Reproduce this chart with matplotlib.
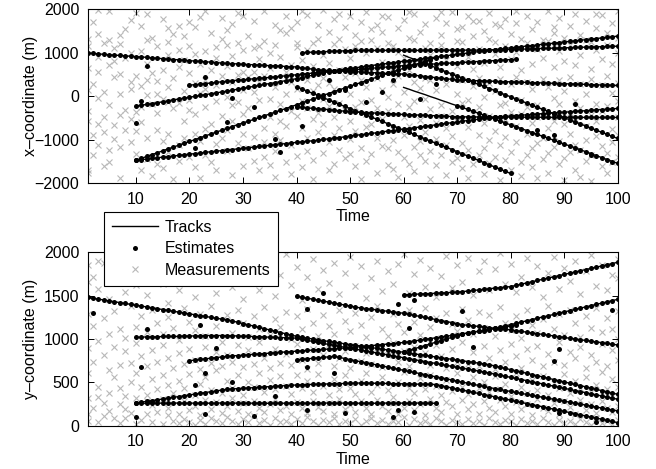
import numpy as np
import matplotlib
matplotlib.use("Agg")
import matplotlib.pyplot as plt
from matplotlib.lines import Line2D

plt.rcParams['font.family'] = ['Liberation Sans', 'DejaVu Sans']

# ---------------- data: x-coordinate panel ----------------
time_ticks = [10, 20, 30, 40, 50, 60, 70, 80, 90, 100]
x_ticks = [-2000, -1000, 0, 1000, 2000]
y_ticks = [0, 500, 1000, 1500, 2000]

xA_start, xA_est = 1, 1
xA = [990,980,970,960,950,940,935,925,915,905, 900,890,880,870,860,850,840,835,825,815,
      805,800,790,780,770,760,750,745,740,730, 725,720,715,705,700,695,690,680,675,670,
      650,635,620,600,595,590,580,575,570,565, 560,555,545,540,535,530,520,515,510,505,
      490,480,465,450,440,425,410,400,385,370, 365,360,355,355,350,345,340,335,330,330,
      325,320,315,310,305,305,300,295,290,285, 280,280,275,270,265,260,255,255,250,245]
xB_start, xB_est = 10, 10
xB = [-230,-210,-190,-170,-150,-130,-110,-85,-65,-45, -25,-5,15,35,55,75,95,115,135,160,
      180,200,225,245,270,290,310,335,355,380, 400,425,455,480,505,535,560,570,580,590,
      600,610,620,630,640,650,660,670,680,690, 700,705,715,720,727,735,740,750,755,760,
      770,775,780,790,795,805,810,815,825,830, 840,845]
xC_start, xC_est = 20, 20
xC = [250,265,275,290,300,315,330,340,350,365, 375,385,400,410,420,430,445,455,465,480,
      490,505,515,530,545,555,570,585,605,620, 635,650,670,685,700,720,735,750,765,785,
      800,815,830,850,865,880,895,910,925,945, 960,975,990,1005,1025,1040,1055,1070,1080,1095,
      1110,1120,1135,1150,1162,1175,1190,1203,1215,1230, 1243,1255,1270,1283,1296,1310,1323,1336,1350,1363,
      1376]
xD_start, xD_est = 10, 10
xD = [-1470,-1430,-1385,-1340,-1300,-1255,-1210,-1170,-1125,-1085, -1040,-1000,-955,-910,-870,-825,-785,-740,-700,-655,
      -615,-575,-535,-490,-450,-410,-365,-325,-285,-240, -200,-155,-110,-70,-25,20,60,105,145,185,
      230,270,310,355,395,435,480,520,560,600, 640,680,720,760,800,840,880]
xE_start, xE_est = 10, 10
xE = [-1470,-1455,-1445,-1430,-1415,-1400,-1390,-1375,-1360,-1345, -1330,-1320,-1305,-1290,-1275,-1265,-1250,-1235,-1225,-1210,
      -1195,-1185,-1170,-1155,-1145,-1130,-1115,-1100,-1090,-1075, -1060,-1050,-1035,-1025,-1010,-995,-980,-965,-950,-935,
      -915,-900,-885,-870,-855,-840,-820,-805,-790,-775, -760,-745,-725,-710,-695,-675,-660,-640,-625,-610,
      -595,-575,-560,-545,-530,-510,-495,-480,-470,-465, -455,-445,-435,-430,-420,-410,-400,-395,-385,-375,
      -370,-360,-350,-340,-335,-325,-315,-310,-300,-290, -283]
xF_start, xF_est = 40, 40
xF = [-250,-260,-270,-280,-290,-300,-310,-325,-335,-345, -355,-365,-375,-380,-385,-390,-395,-400,-405,-415,
      -420,-425,-430,-435,-440,-445,-450,-455,-460,-470, -474,-475,-476,-477,-478,-479,-480,-480,-481,-481,
      -482,-482,-483,-483,-484,-484,-485,-485,-486,-486, -487,-487,-487,-488,-488,-488,-488,-489,-489,-489, -489]
xG_start, xG_est = 41, 41
xG = [1000,1005,1010,1015,1020,1025,1030,1035,1040,1045, 1048,1050,1050,1050,1050,1050,1050,1050,1050,1050,
      1050,1050,1050,1050,1055,1055,1055,1055,1055,1055, 1055,1055,1055,1055,1055,1055,1060,1063,1067,1070,
      1075,1078,1082,1086,1090,1094,1098,1101,1105,1109, 1113,1117,1120,1124,1128,1132,1136,1140,1143,1147]
xH_start, xH_est = 40, 40
xH = [214,165,115,65,15,-35,-85,-135,-185,-235, -285,-335,-385,-430,-480,-530,-580,-630,-680,-730,
      -780,-830,-880,-930,-980,-1030,-1080,-1130,-1175,-1225, -1275,-1325,-1375,-1425,-1475,-1525,-1575,-1625,-1675,-1725,
      -1774]
xI_start, xI_est = 60, 70
xI = [200,160,115,75,35,-10,-50,-95,-135,-180, -220,-260,-305,-350,-395,-435,-480,-525,-570,-615,
      -660,-700,-745,-790,-835,-880,-920,-965,-1010,-1055, -1100,-1140,-1185,-1230,-1275,-1320,-1365,-1410,-1455,-1500,
      -1544]
xJ_start, xJ_est = 60, 64
xJ = [940,890,845,795,750,700,655,605,555,510, 460,415,365,320,270,225,175,130,80,30,
      -15,-65,-110,-160,-210,-255,-305,-350,-400,-445, -495,-540,-590,-635,-685,-735,-780,-830,-875,-925,
      -971]

x_out_t = [10, 11, 12, 21, 23, 27, 28, 32, 36, 37, 41, 46, 49, 53, 56, 58, 63, 66, 85, 88, 92, 95]
x_out_v = [-620, -100, 690, -1200, 440, -600, -35, -240, -990, -1280, -685, 370, 140, -145, 100, 370, -70, 275, -780, -895, -185, -1350]

x_clutter = [
 [1310,-560,140,-1760,1160,-330,640,-1700], [-900,1710,280,-1360], [560,-1110,1980,-40,1420,-650,890],
 [-470,90,1230,-1610,-820], [1950,-210,-1240,720,1290,-1520], [430,-990,1110,-660,810],
 [-1160,60,1400,-440,510,1190,-1890], [870,-310,-770,1550], [-1050,330,1740,-520,990,170],
 [1900,-810,470,-1330,-370], [-260,1620,-1690,1030,230,-600], [1290,-950,20,740,-1450,1880,380],
 [-180,530,-1830,1340], [50,-770,1150,-1550,340,-390], [-1020,1770,-60,610,-1650],
 [1570,-860,220,950,-1290,-130,1240], [-280,1430,-1900,410], [1620,-1130,670,-160,-1480,1060],
 [120,-970,1370,-560,830], [-1390,520,1710,-90,-320,1140], [960,-1620,300,-880,1580,-410],
 [-1020,1810,70,730,-1870], [370,-240,1950,-1340,1030,-760,160], [-650,1450,-1510,600],
 [880,-1100,250,-120,1130,-1700], [1790,-450,460,-970,1320], [-20,-1270,1180,690,-780,1520],
 [-560,320,1660,-1820,930,-210], [1900,-1080,480,-140,1230], [-410,1060,-1600,150,-860,1850,560],
 [430,-1200,1380,-270], [-930,1110,90,1720,-1490,560], [-90,1150,-1700,330,860],
 [1270,-720,460,-1390,1960,-1050], [-480,980,-1580,640,-60], [210,1630,-870,-1250,1180,-1860],
 [-580,1520,-190,900,-1010], [560,-680,1840,40,-1520,1450], [-1130,320,1560,-350,720,-1790],
 [1230,-460,170,-1380,1700,1120], [-730,1950,-120,820,-1620], [380,-960,1860,-280,1050,-1270],
 [-1460,690,120,1230,-520,-1900], [1320,-380,250,-830,1640], [-640,420,1970,-1300,940,-60],
 [-1050,760,1480,310,-230,-1690], [170,-470,1190,-1560,1760,-890], [-740,1880,-150,610,-1230,1310],
 [440,-1410,1590,-310,1080], [-990,60,1830,-560,870,-1330], [1160,-240,-1600,520,1400,-800],
 [-1180,360,1700,-140,1260,-1900], [210,-700,1920,-420,980,-1480], [-630,1540,-90,680,-1320,1280],
 [410,-960,1640,-280,1110,-1760], [-1140,150,1850,-530,790,1480], [1230,-350,-1200,1820,-20,-1580],
 [-760,280,1160,-1680,640,-1010], [470,-1290,1560,-180,1020,-1860], [-480,1740,90,-900,870,-1430],
 [1940,-690,-260,590,-1550,1330], [-110,1300,-1170,330,1880,-1720], [760,-540,1470,-1360,180,-1020],
 [-830,420,1650,-70,1110,-1480], [380,-1260,1210,-290,940,-1910], [-610,1790,140,-980,650,-1590],
 [1930,-210,-1350,1180,-450,1410], [290,-740,1680,-1110,830,-1800], [-330,1020,1940,-920,460,-1500],
 [1550,-580,50,-1420,700,1260], [-160,1240,-1070,370,1580,-1640], [890,-700,-90,1830,-1230,-1880],
 [-410,1720,230,-1560,620,1370], [1090,-250,1720,-890,420,-1350], [-620,770,1490,-30,-1180,-1780],
 [310,-460,1900,-1010,1310,-1530], [-790,120,1660,960,-1390,1250], [390,-210,-1120,1610,680,-1930],
 [-530,1150,-150,1780,-940,-1460], [270,-360,1430,-1280,850,-1700], [-680,1020,1960,450,-1050,1680],
 [-80,1320,-1500,590,-420,-1840], [330,-870,1850,-260,1220,-1360], [-610,170,1540,-1200,740,-1620],
 [-210,1710,-1080,1090,-470,-1890], [400,-950,1280,-330,880,-1450], [-720,1960,210,-1310,1260,-1760],
 [-50,1450,-560,660,-1170,1580], [360,-1020,1790,-190,1030,-1550], [-640,800,1330,120,-1420,-1920],
 [440,-390,1620,-870,1170,-1290], [-120,1880,-1130,710,-520,-1700], [280,-1240,950,-280,1400,-1850],
 [-690,60,1720,-1010,1280,-1480], [390,-440,1250,-1360,620,-1940], [-170,1570,-920,1060,-580,1880],
 [250,-1150,1860,-350,860,-1600], [-230,470,1460,-1300,1180,-1770], [80,-760,1690,-1060,730,-1520],
 [1340,-120,980,-900,300,-480,-1400,1950]]

# ---------------- data: y-coordinate panel ----------------
yA_start, yA_est = 1, 1
yA = [1480,1470,1460,1450,1440,1430,1420,1410,1400,1390, 1380,1370,1360,1350,1340,1330,1320,1310,1300,1290,
      1280,1270,1260,1250,1240,1230,1223,1208,1193,1178, 1164,1149,1134,1119,1105,1090,1075,1060,1046,1031,
      1021,1010,1000,990,981,972,963,954,945,936, 928,919,910,901,892,883,874,865,856,847,
      838,829,820,811,802,793,784,775,766,758, 749,740,731,722,713,704,690,675,661,647,
      633,619,604,590,576,562,548,533,519,505, 490,476,462,448,434,419,405,391,376,362]
yB_start, yB_est = 10, 10
yB = [1020,1020,1025,1025,1025,1030,1030,1030,1030,1035, 1035,1035,1035,1040,1040,1040,1040,1040,1038,1035,
      1033,1031,1028,1026,1024,1021,1019,1017,1014,1012, 1010,997,985,972,960,949,938,927,916,905,
      894,883,872,861,850,839,828,817,806,795, 784,773,762,751,740,729,718,707,696,685,
      674,663,652,641,630,619,608,595,583,570, 558,545,532,520,507,494,482,469,457,444,
      431,419,406,394,381,368,356,343,330,318, 305]
yC_start, yC_est = 20, 20
yC = [750,757,764,771,779,786,793,800,805,809, 814,818,823,828,832,837,842,846,851,855,
      860,864,868,872,876,880,884,888,892,896, 900,906,912,918,924,930,936,942,948,954,
      960,969,978,987,996,1005,1014,1023,1032,1041, 1050,1060,1069,1079,1089,1098,1108,1123,1137,1152,
      1166,1181,1196,1210,1225,1239,1254,1268,1283,1298, 1312,1327,1341,1356,1370,1385,1400,1414,1429,1443,
      1458]
yD_start, yD_est = 10, 10
yD = [262,258,260,263,259,261,257,260,262,258, 260,261,259,262,258,260,263,259,261,260,
      258,262,259,261,260,257,262,259,260,261, 259,262,258,260,261,259,263,258,260,261,
      259,262,258,260,261,257,260,262,259,260, 261,258,260,262,259,260,258]
yE_start, yE_est = 10, 10
yE = [262,271,281,290,299,308,318,327,336,346, 355,364,374,383,392,401,411,420,424,428,
      432,435,439,443,447,451,455,459,462,466, 470,472,474,476,478,480,482,484,486,487,
      489,491,493,492,490,489,488,487,485,484, 483,481,480,479,478,476,475,462,449,436,
      423,410,398,385,372,359,346,333,320,307, 294,281,268,255,243,230,217,204,191,178,
      165,152,139,126,113,100,88,75,62,49, 35]
yF_start, yF_est = 40, 40
yF = [1493,1482,1471,1459,1448,1437,1426,1414,1403,1392, 1381,1369,1358,1350,1343,1335,1328,1320,1312,1305,
      1297,1285,1273,1261,1249,1237,1225,1213,1201,1189, 1177,1165,1158,1152,1145,1138,1132,1125,1118,1112,
      1105,1096,1088,1079,1070,1062,1053,1044,1036,1027, 1018,1009,1001,992,983,975,966,957,949,940, 931]
yG_start, yG_est = 40, 40
yG = [760,766,771,777,783,789,794,800,788,775, 763,750,738,726,713,701,688,676,664,651,
      639,626,614,602,589,577,564,552,540,527, 515,502,490,478,465,453,440,429,418,406,
      395,384,373,361,350,339,328,316,305,294, 283,271,260,249,238,226,215,204,193,181, 170]
yH_start, yH_est = 60, 60
yH = [1510,1513,1516,1519,1522,1525,1528,1531,1534,1537, 1540,1547,1553,1560,1566,1573,1579,1586,1592,1599,
      1605,1619,1633,1647,1661,1675,1689,1703,1717,1731, 1745,1759,1773,1787,1801,1815,1829,1843,1857,1871,
      1885]
yI_start, yI_est = 60, 60
yI = [850,869,888,906,925,944,963,982,1001,1019,1038,1057, 1070,1080,1090,1100,1110,1120,1130,1140,1150,1160]

y_out_t = [2, 12, 11, 10, 22, 23, 21, 23, 25, 28, 32, 36, 42, 42, 42, 45, 47, 49, 58, 59, 62, 61, 62, 59, 71, 73, 88, 89, 89, 96, 99]
y_out_v = [1297, 1112, 681, 97, 1162, 612, 470, 135, 893, 508, 112, 346, 181, 681, 1343, 1535, 604, 143, 104, 181, 162, 1124, 1450, 1404, 1323, 912, 746, 881, 150, 46, 1335]

y_clutter = [
 [1850,320,1290,60,900,1660,610,140], [730,1720,210,1150], [1580,40,980,450,1900,330],
 [260,1240,820,1880,110], [1060,380,1750,640,170,1460], [90,910,1320,560],
 [1930,430,700,30,1120,250], [340,1540,860,1010,190,90], [500,1380,150,1800,720],
 [1140,20,610,1620,320,950], [450,1990,800,70,1270], [1080,280,1510,690,130,360],
 [240,1760,540,870,40,1330], [1190,420,160,1850,740], [590,1640,20,930,310,1060],
 [1250,120,780,1420,470,200], [380,1900,660,60,1130], [840,30,1570,520,990,140],
 [1360,290,710,1730,80,440], [600,1200,180,1960,890,40], [1100,350,1480,10,760,230],
 [120,1800,480,650,1290,70], [910,300,1650,20,1040,560], [1380,190,720,1850,90,410],
 [270,1530,640,1150,50,850], [1720,150,970,380,690,30], [520,1280,100,1940,820,230],
 [1070,60,430,1600,740,320], [170,930,1810,20,590,1330], [1460,260,680,80,1190,360],
 [500,1770,40,870,1020,140], [1260,290,1910,450,110,710], [610,30,1120,1560,210,960],
 [1370,70,390,1690,780,160], [250,1050,1860,530,10,660], [890,310,1500,90,420,1230],
 [1140,570,40,1740,180,720], [460,1310,230,1980,830,60], [1000,140,700,1620,370,20],
 [270,1830,580,940,80,1270], [760,30,1450,430,1110,200], [1350,510,150,1710,650,100],
 [290,1190,880,1920,50,390], [1580,220,600,1030,10,720], [460,1800,170,810,1280,70],
 [940,260,1650,350,40,1150], [130,1060,540,1880,690,90], [1340,310,20,780,1520,420],
 [580,1760,190,1210,60,860], [1090,440,30,1950,670,240], [370,1300,920,1610,160,80],
 [1160,10,520,1840,750,280], [610,1470,200,1020,50,840], [90,1250,710,1700,390,130],
 [1380,300,900,1900,470,30], [560,1120,70,1550,680,230], [1040,170,410,1790,20,820],
 [330,1640,950,260,1290,60], [1170,500,140,1870,730,40], [620,1980,210,1080,860,100],
 [1330,10,440,1530,290,690], [180,1200,910,1750,380,80], [1050,550,30,1910,250,770],
 [420,1360,120,1600,840,60], [1140,590,310,1820,20,700], [200,1480,930,1240,460,90],
 [1010,350,160,1730,800,50], [530,1960,270,1300,670,10], [1170,70,880,1590,400,230],
 [610,1850,140,1090,740,40], [1350,450,20,1660,960,300], [190,1220,710,1940,370,80],
 [1060,560,250,1510,850,30], [430,1310,130,1780,690,60], [1130,280,500,1900,920,10],
 [390,1570,780,1280,210,90], [1040,160,570,1810,650,40], [870,1370,300,1990,420,20],
 [480,1190,730,1630,230,70], [1100,140,940,1860,340,50], [610,1260,270,1540,800,10],
 [1010,450,190,1720,670,80], [380,1340,890,1930,250,30], [1160,530,120,1600,760,60],
 [410,1070,920,1840,310,20], [1230,570,200,1490,690,90], [360,1380,830,1760,170,40],
 [1120,490,260,1950,740,10], [430,1290,960,1580,140,70], [1050,600,290,1820,700,30],
 [380,1340,850,1670,220,60], [1180,510,130,1900,780,20], [440,1020,910,1520,300,80],
 [1270,560,180,1790,660,40], [390,1130,820,1970,250,10], [1360,470,150,1610,730,90],
 [620,1080,940,1850,280,30], [420,1240,690,1560,210,60], [1110,540,870,1740,160,20],
 [1920,1700,1320,1000,760,450,230,70]]

x_tracks = [(xA_start, xA_est, xA), (xB_start, xB_est, xB), (xC_start, xC_est, xC),
            (xD_start, xD_est, xD), (xE_start, xE_est, xE), (xF_start, xF_est, xF),
            (xG_start, xG_est, xG), (xH_start, xH_est, xH), (xI_start, xI_est, xI),
            (xJ_start, xJ_est, xJ)]
y_tracks = [(yA_start, yA_est, yA), (yB_start, yB_est, yB), (yC_start, yC_est, yC),
            (yD_start, yD_est, yD), (yE_start, yE_est, yE), (yF_start, yF_est, yF),
            (yG_start, yG_est, yG), (yH_start, yH_est, yH), (yI_start, yI_est, yI)]

GREY = (0.72, 0.72, 0.72)
FS = 11.5

fig = plt.figure(figsize=(6.56, 4.69), dpi=100)
ax1 = fig.add_axes([0.1337, 0.6092, 0.808, 0.3716])
ax2 = fig.add_axes([0.1337, 0.0923, 0.808, 0.3697])


def draw(ax, clutter, tracks, out_t, out_v):
    ct, cv = [], []
    for i, vals in enumerate(clutter):
        ct += [i + 1] * len(vals)
        cv += vals
    ax.plot(ct, cv, linestyle='none', marker='x', color=GREY, ms=5, mew=0.8, zorder=1)
    for start, est_from, vals in tracks:
        t = np.arange(start, start + len(vals))
        v = np.asarray(vals, float)
        ax.plot(t, v, color='black', lw=1.0, zorder=2)
        m = t >= est_from
        ax.plot(t[m], v[m], linestyle='none', marker='o', ms=3.6, mew=0,
                color='black', zorder=3)
    ax.plot(out_t, out_v, linestyle='none', marker='o', ms=3.6, mew=0,
            color='black', zorder=3)
    ax.set_xlim(1, 100)
    ax.set_xticks(time_ticks)
    ax.tick_params(direction='in', top=True, right=True, length=4, width=0.7,
                   labelsize=FS, pad=6, colors='black')
    for s in ax.spines.values():
        s.set_linewidth(0.8)
    ax.set_xlabel('Time', fontsize=FS, labelpad=2)


draw(ax1, x_clutter, x_tracks, x_out_t, x_out_v)
ax1.set_ylim(-2000, 2000)
ax1.set_yticks(x_ticks)
ax1.set_ylabel('x\u2013coordinate (m)', fontsize=FS)
ax1.yaxis.set_label_coords(-0.093, 0.5)

draw(ax2, y_clutter, y_tracks, y_out_t, y_out_v)
ax2.set_ylim(0, 2000)
ax2.set_yticks(y_ticks)
ax2.set_ylabel('y\u2013coordinate (m)', fontsize=FS)
ax2.yaxis.set_label_coords(-0.093, 0.5)

handles = [Line2D([], [], color='black', lw=1.0),
           Line2D([], [], linestyle='none', marker='o', ms=3.6, mew=0, color='black'),
           Line2D([], [], linestyle='none', marker='x', ms=5, mew=0.8, color=GREY)]
leg = fig.legend(handles, ['Tracks', 'Estimates', 'Measurements'],
                 loc='upper left', bbox_to_anchor=(104 / 656, 1 - 212 / 469),
                 borderaxespad=0, fancybox=False, framealpha=1, edgecolor='black',
                 fontsize=FS, handlelength=2.9, handletextpad=0.4,
                 borderpad=0.5, labelspacing=0.4)
leg.get_frame().set_linewidth(0.8)

fig.savefig('out.png', dpi=100)
